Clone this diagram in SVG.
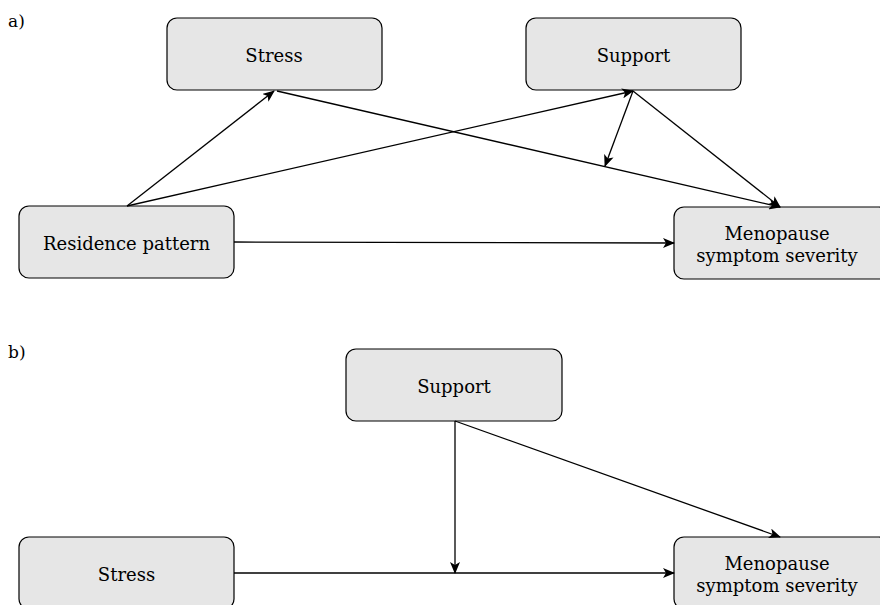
<svg xmlns="http://www.w3.org/2000/svg" width="880" height="605" viewBox="0 0 880 605">
  <style>
    .box { fill: #e6e6e6; stroke: #000; stroke-width: 1.2; }
    .lbl { font-family: "DejaVu Serif", "Liberation Serif", serif; font-size: 18px; fill: #000; text-anchor: middle; }
    .tag { font-family: "DejaVu Serif", "Liberation Serif", serif; font-size: 17px; fill: #000; }
    .edge { fill: none; stroke: #000; stroke-width: 1.3; marker-end: url(#arrow); }
  </style>
  <defs>
    <marker id="arrow" viewBox="0 0 12 10" refX="11" refY="5" markerWidth="12" markerHeight="10" markerUnits="userSpaceOnUse" orient="auto">
      <path d="M0,0 L12,5 L0,10 L3,5 Z" fill="#000"/>
    </marker>
  </defs>

  <text class="tag" x="8" y="27">a)</text>
  <text class="tag" x="8" y="358">b)</text>

  <!-- panel a -->
  <g id="a-stress">
    <rect class="box" x="167" y="18" width="215" height="72" rx="10"/>
    <text class="lbl" x="274" y="62">Stress</text>
  </g>
  <g id="a-support">
    <rect class="box" x="526" y="18" width="215" height="72" rx="10"/>
    <text class="lbl" x="633.5" y="62">Support</text>
  </g>
  <g id="a-residence">
    <rect class="box" x="19" y="206" width="215" height="72" rx="10"/>
    <text class="lbl" x="126.5" y="250">Residence pattern</text>
  </g>
  <g id="a-menopause">
    <rect class="box" x="674" y="207" width="215" height="72" rx="10"/>
    <text class="lbl" x="777" y="240">Menopause</text>
    <text class="lbl" x="777" y="262">symptom severity</text>
  </g>

  <!-- panel b -->
  <g id="b-support">
    <rect class="box" x="346" y="349" width="216" height="72" rx="10"/>
    <text class="lbl" x="454" y="393">Support</text>
  </g>
  <g id="b-stress">
    <rect class="box" x="19" y="537" width="215" height="72" rx="10"/>
    <text class="lbl" x="126.5" y="581">Stress</text>
  </g>
  <g id="b-menopause">
    <rect class="box" x="674" y="537" width="215" height="72" rx="10"/>
    <text class="lbl" x="777" y="570">Menopause</text>
    <text class="lbl" x="777" y="592">symptom severity</text>
  </g>

  <g id="connectors">
    <!-- panel a -->
    <line class="edge" x1="127" y1="206" x2="274" y2="91"/>
    <line class="edge" x1="127" y1="206" x2="633" y2="91"/>
    <line class="edge" x1="277" y1="91" x2="780" y2="207"/>
    <line class="edge" x1="633" y1="91" x2="780" y2="207"/>
    <line class="edge" x1="633" y1="91" x2="605" y2="166"/>
    <line class="edge" x1="234" y1="242" x2="674" y2="243"/>
    <!-- panel b -->
    <line class="edge" x1="455" y1="421" x2="455" y2="573"/>
    <line class="edge" x1="455" y1="421" x2="780" y2="537"/>
    <line class="edge" x1="234" y1="573" x2="674" y2="573"/>
  </g>
</svg>
